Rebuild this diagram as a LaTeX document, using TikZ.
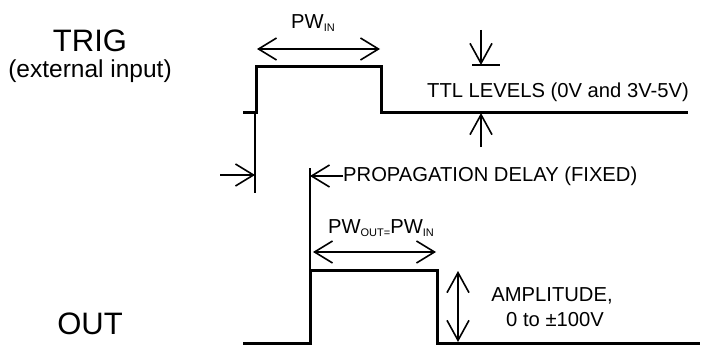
\documentclass[tikz,border=0pt]{standalone}
\usepackage{fontspec}
\setmainfont{Liberation Sans}
\usetikzlibrary{arrows.meta}
\newcommand\sbs[1]{\raisebox{-0.3ex}{\fontsize{11}{11}\selectfont #1}}
\begin{document}
\begin{tikzpicture}[x=1pt,y=-1pt,
  sig/.style={line width=3pt, line join=miter},
  dim/.style={line width=1.6pt},
  lbl/.style={font=\fontsize{20.2}{22}\selectfont, inner sep=0pt},
  big/.style={font=\fontsize{31}{33}\selectfont, inner sep=0pt}]
\useasboundingbox (0,0) rectangle (715,345);
% labels
\node[big] (trig) at (90,41) {TRIG};
\node[lbl, font=\fontsize{24.5}{26}\selectfont] (ext) at (90,71) {(external input)};
\node[big] (out) at (90,324) {OUT};
% TRIG signal
\coordinate (t0) at (243,112);
\coordinate (t1) at (256,112);
\coordinate (t2) at (256,67);
\coordinate (t3) at (381,67);
\coordinate (t4) at (381,112);
\coordinate (t5) at (688,112);
\draw[sig] (t0) -- (t1) -- (t2) -- (t3) -- (t4) -- (t5);
% OUT signal
\coordinate (o0) at (243,343);
\coordinate (o1) at (310,343);
\coordinate (o2) at (310,270);
\coordinate (o3) at (437,270);
\coordinate (o4) at (437,343);
\coordinate (o5) at (700,343);
\draw[sig] (o0) -- (o1) -- (o2) -- (o3) -- (o4) -- (o5);
% PW_IN
\node[lbl] (pwin) at (313,23) {PW\sbs{IN}};
\coordinate (pa) at (257,49);
\coordinate (pb) at (380,49);
\draw[dim, {Straight Barb[length=18pt,width=22pt]}-{Straight Barb[length=18pt,width=22pt]}] (pa) -- (pb);
% TTL levels
\node[lbl] (ttl) at (558,92) {TTL LEVELS (0V and 3V-5V)};
\coordinate (dt) at (481,30);
\coordinate (db) at (481,65);
\coordinate (bl) at (472,65);
\coordinate (br) at (500,65);
\draw[dim, -{Straight Barb[length=20pt,width=22pt]}] (dt) -- (db);
\draw[dim] (bl) -- (br);
\coordinate (ut) at (481,113);
\coordinate (ub) at (481,147);
\draw[dim, -{Straight Barb[length=20pt,width=22pt]}] (ub) -- (ut);
% propagation delay
\coordinate (m1t) at (255,112);
\coordinate (m1b) at (255,193);
\draw[dim] (m1t) -- (m1b);
\coordinate (la) at (220,175);
\coordinate (lb) at (255,175);
\draw[dim, -{Straight Barb[length=18pt,width=22pt]}] (la) -- (lb);
\coordinate (m2t) at (310,168);
\draw[dim] (m2t) -- (o2);
\node[lbl, anchor=west] (prop) at (343,176) {PROPAGATION DELAY (FIXED)};
\coordinate (ra) at (310,176);
\draw[dim, -{Straight Barb[length=18pt,width=22pt]}] (prop.west) -- (ra);
% PW_OUT
\node[lbl] (pwout) at (381,228) {PW\sbs{OUT=}PW\sbs{IN}};
\coordinate (qa) at (313,252);
\coordinate (qb) at (436,252);
\draw[dim, {Straight Barb[length=18pt,width=22pt]}-{Straight Barb[length=18pt,width=22pt]}] (qa) -- (qb);
% amplitude
\coordinate (aa) at (458,271);
\coordinate (ab) at (458,342);
\draw[dim, {Straight Barb[length=20pt,width=22pt]}-{Straight Barb[length=20pt,width=22pt]}] (aa) -- (ab);
\node[lbl] (amp1) at (552,296) {AMPLITUDE,};
\node[lbl] (amp2) at (555,320) {0 to ±100V};
\end{tikzpicture}
\end{document}
